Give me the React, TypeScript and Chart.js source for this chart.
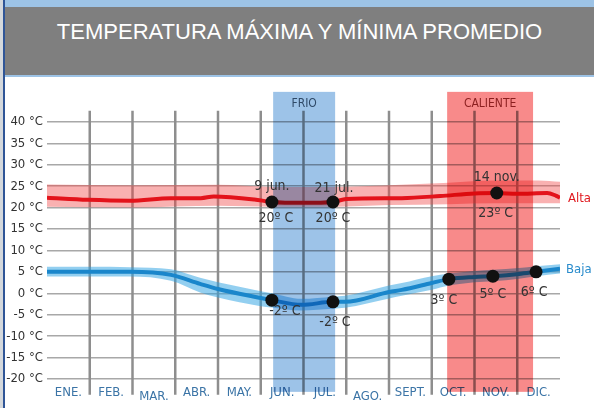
import React, { useEffect, useRef } from "react";
import { Chart, registerables } from "chart.js";

Chart.register(...registerables);

const TITLE = "TEMPERATURA MÁXIMA Y MÍNIMA PROMEDIO";
const MONTHS = ["ENE.", "FEB.", "MAR.", "ABR.", "MAY.", "JUN.", "JUL.", "AGO.", "SEPT.", "OCT.", "NOV.", "DIC."];
const MONTH_LOWERED = [false, false, true, false, false, false, false, true, false, false, false, false];
const Y_TICKS = [40, 35, 30, 25, 20, 15, 10, 5, 0, -5, -10, -15, -20];

// Alta (max temperature) line
const HIGH_X = [0, 0.96, 1.94, 2.9, 3.6, 3.9, 4.85, 5.26, 6.0, 6.69, 7.0, 8.3, 9.2, 10.0, 10.52, 11.0, 11.7, 11.9, 12];
const HIGH_T = [22.3, 21.8, 21.6, 22.2, 22.2, 22.6, 21.9, 21.3, 21.1, 21.3, 22.0, 22.2, 22.7, 23.3, 23.4, 23.2, 23.4, 22.8, 22.3];
// Alta band
const HIGH_BAND_X = [0, 2, 4, 5.3, 6.7, 8, 9.4, 10.5, 11.5, 12];
const HIGH_BAND_UP = [25.4, 25.2, 25.3, 24.8, 24.8, 25.2, 25.8, 26.3, 26.3, 26.0];
const HIGH_BAND_DOWN = [20.2, 20.0, 20.4, 20.2, 20.2, 20.6, 20.8, 21.0, 21.0, 21.0];

// Baja (min temperature) line
const LOW_X = [0, 1, 1.94, 2.9, 3.58, 4.0, 5.0, 5.26, 5.95, 6.69, 6.97, 8.0, 8.3, 9.0, 9.4, 10.0, 10.43, 11.04, 11.44, 12];
const LOW_T = [5.0, 5.0, 5.0, 4.3, 2.2, 1.0, -1.1, -1.6, -2.7, -2.0, -2.0, 0.3, 0.8, 2.4, 3.3, 3.8, 4.0, 4.5, 5.0, 5.7];
const LOW_BAND_UP = [6.2, 6.2, 6.1, 5.6, 3.6, 2.6, 0.5, 0.0, -1.3, -0.8, -0.6, 1.8, 2.4, 4.0, 4.6, 5.2, 5.5, 5.9, 6.3, 6.8];
const LOW_BAND_DOWN = [3.9, 3.9, 3.9, 2.9, 0.2, -1.0, -3.0, -3.3, -4.0, -3.6, -3.4, -1.2, -0.6, 0.8, 1.8, 2.6, 2.8, 3.4, 4.0, 4.6];

// Marked points
const MARK_X = [5.26, 6.69, 10.52, 5.26, 6.69, 9.4, 10.43, 11.44];
const MARK_T = [21.3, 21.3, 23.4, -1.6, -2.0, 3.3, 4.0, 5.0];
const MARK_TOP_LABELS = ["9 jun.", "21 jul.", "14 nov.", "", "", "", "", ""];
const MARK_BOTTOM_LABELS = ["20º C", "20º C", "23º C", "-2º C", "-2º C", "3º C", "5º C", "6º C"];

// Seasons
const SEASON_NAMES = ["FRIO", "CALIENTE"];
const SEASON_START = [5.29, 9.36];
const SEASON_END = [6.74, 11.37];

// ---- styles ----
const NARROW = "'Liberation Sans Narrow', 'DejaVu Sans Condensed', 'Roboto', sans-serif";
const MARK_TOP_OFFSET = [[0, -16], [1, -14], [0, -16], [0, 0], [0, 0], [0, 0], [0, 0], [0, 0]];
const MARK_BOTTOM_OFFSET = [[4, 16], [0, 16], [-1, 20], [13, 11], [2, 21], [-5, 21], [0, 18], [-2, 21]];
const SEASON_FILL = ["rgb(157,195,232)", "rgb(248,138,138)"];
const SEASON_TEXT = ["#2f4a68", "#8b1f1f"];
const DOTS_INDEX = 6;

const pts = (xs: number[], ys: number[]) => xs.map((x, i) => ({ x, y: ys[i] }));

const overlayPlugin = {
  id: "overlayPlugin",
  beforeDatasetsDraw(chart: any) {
    const { ctx, scales } = chart;
    const x = scales.x;
    const y = scales.y;
    ctx.save();
    ctx.strokeStyle = "#8e8e8e";
    ctx.lineWidth = 2.5;
    for (let m = 1; m < MONTHS.length; m++) {
      const px = x.getPixelForValue(m);
      ctx.beginPath();
      ctx.moveTo(px, y.getPixelForValue(42.6));
      ctx.lineTo(px, y.getPixelForValue(-23.7));
      ctx.stroke();
    }
    ctx.restore();
  },
  beforeDatasetDraw(chart: any, args: any) {
    if (args.index !== DOTS_INDEX) return;
    const { ctx, scales } = chart;
    const x = scales.x;
    const y = scales.y;
    ctx.save();
    ctx.globalCompositeOperation = "multiply";
    SEASON_NAMES.forEach((_, i) => {
      const x0 = x.getPixelForValue(SEASON_START[i]);
      const x1 = x.getPixelForValue(SEASON_END[i]);
      const y0 = y.getPixelForValue(47);
      const y1 = y.getPixelForValue(-23);
      ctx.fillStyle = SEASON_FILL[i];
      ctx.fillRect(x0, y0, x1 - x0, y1 - y0);
    });
    ctx.restore();
    ctx.save();
    ctx.font = `12px ${NARROW}`;
    ctx.textAlign = "center";
    ctx.textBaseline = "middle";
    SEASON_NAMES.forEach((name, i) => {
      const cx = (x.getPixelForValue(SEASON_START[i]) + x.getPixelForValue(SEASON_END[i])) / 2;
      ctx.fillStyle = SEASON_TEXT[i];
      ctx.fillText(name, cx, y.getPixelForValue(44.3));
    });
    ctx.restore();
  },
  afterDatasetsDraw(chart: any) {
    const { ctx, scales } = chart;
    const x = scales.x;
    const y = scales.y;
    ctx.save();
    ctx.font = `14px ${NARROW}`;
    ctx.textAlign = "center";
    ctx.textBaseline = "middle";
    ctx.fillStyle = "#333333";
    MARK_X.forEach((mx, i) => {
      const px = x.getPixelForValue(mx);
      const py = y.getPixelForValue(MARK_T[i]);
      if (MARK_TOP_LABELS[i]) {
        ctx.fillText(MARK_TOP_LABELS[i], px + MARK_TOP_OFFSET[i][0], py + MARK_TOP_OFFSET[i][1]);
      }
      if (MARK_BOTTOM_LABELS[i]) {
        ctx.fillText(MARK_BOTTOM_LABELS[i], px + MARK_BOTTOM_OFFSET[i][0], py + MARK_BOTTOM_OFFSET[i][1]);
      }
    });
    // series names at right end
    ctx.textAlign = "left";
    ctx.font = `13px ${NARROW}`;
    const endX = x.getPixelForValue(12);
    ctx.fillStyle = "#e0191f";
    ctx.fillText("Alta", endX + 8, y.getPixelForValue(HIGH_T[HIGH_T.length - 1]) + 1);
    ctx.fillStyle = "#2a8ccc";
    ctx.fillText("Baja", endX + 6, y.getPixelForValue(LOW_T[LOW_T.length - 1]) + 1);
    ctx.restore();
  },
};

function TempChart() {
  const ref = useRef<HTMLCanvasElement | null>(null);
  useEffect(() => {
    if (!ref.current) return;
    const chart = new Chart(ref.current, {
      type: "line",
      data: {
        datasets: [
          {
            data: pts(HIGH_BAND_X, HIGH_BAND_UP),
            borderWidth: 0,
            pointRadius: 0,
            fill: "+1",
            backgroundColor: "rgba(240,70,70,0.42)",
            cubicInterpolationMode: "monotone",
            order: 3,
          },
          {
            data: pts(HIGH_BAND_X, HIGH_BAND_DOWN),
            borderWidth: 0,
            pointRadius: 0,
            fill: false,
            cubicInterpolationMode: "monotone",
            order: 3,
          },
          {
            data: pts(HIGH_X, HIGH_T),
            borderColor: "#e3131b",
            borderWidth: 4,
            pointRadius: 0,
            fill: false,
            cubicInterpolationMode: "monotone",
            order: 2,
          },
          {
            data: pts(LOW_X, LOW_BAND_UP),
            borderWidth: 0,
            pointRadius: 0,
            fill: "+1",
            backgroundColor: "rgba(40,160,225,0.5)",
            cubicInterpolationMode: "monotone",
            order: 3,
          },
          {
            data: pts(LOW_X, LOW_BAND_DOWN),
            borderWidth: 0,
            pointRadius: 0,
            fill: false,
            cubicInterpolationMode: "monotone",
            order: 3,
          },
          {
            data: pts(LOW_X, LOW_T),
            borderColor: "#1a86cb",
            borderWidth: 4,
            pointRadius: 0,
            fill: false,
            cubicInterpolationMode: "monotone",
            order: 2,
          },
          {
            data: pts(MARK_X, MARK_T),
            showLine: false,
            pointRadius: 6.5,
            pointBackgroundColor: "#111111",
            pointBorderWidth: 0,
            order: 0,
          },
        ],
      },
      options: {
        animation: false,
        responsive: false,
        events: [],
        layout: { padding: { left: 0, right: 34, top: 32, bottom: 0 } },
        plugins: { legend: { display: false }, tooltip: { enabled: false } },
        scales: {
          x: {
            type: "linear",
            min: 0,
            max: 12,
            afterBuildTicks: (s: any) => {
              s.ticks = MONTHS.map((_, i) => ({ value: i + 0.5 }));
            },
            afterFit: (s: any) => {
              s.height = 29;
            },
            grid: { display: false, drawTicks: false },
            border: { display: false },
            ticks: {
              autoSkip: false,
              maxRotation: 0,
              padding: 6,
              color: "#3b74a6",
              font: (ctx: any) => ({
                family: NARROW,
                size: 13,
                lineHeight: MONTH_LOWERED[ctx.index] ? 1.85 : 1.2,
              }),
              callback: (_v: any, i: number) => MONTHS[i],
            },
          },
          y: {
            min: -20,
            max: 43,
            afterBuildTicks: (s: any) => {
              s.ticks = Y_TICKS.map((v) => ({ value: v }));
            },
            afterFit: (s: any) => {
              s.width = 47;
            },
            grid: { color: "#a8a8a8", lineWidth: 1.5, drawTicks: false },
            border: { display: false },
            ticks: {
              padding: 4,
              color: "#333333",
              font: { family: NARROW, size: 13 },
              callback: (v: any) => `${v} °C`,
            },
          },
        },
      },
      plugins: [overlayPlugin],
    } as any);
    return () => chart.destroy();
  }, []);
  return <canvas ref={ref} width={594} height={331} style={{ display: "block", width: 594, height: 331 }} />;
}

export default function App() {
  return (
    <div
      style={{
        position: "fixed",
        left: 0,
        top: 0,
        width: 594,
        height: 408,
        background: "#ffffff",
        overflow: "hidden",
      }}
    >
      <div style={{ position: "absolute", left: 0, top: 0, width: 594, height: 7, background: "#9dc3e6" }} />
      <div style={{ position: "absolute", left: 0, top: 7, width: 594, height: 68, background: "#7f7f7f" }} />
      <div style={{ position: "absolute", left: 0, top: 75, width: 594, height: 2, background: "#9dc3e6" }} />
      <div
        style={{
          position: "absolute",
          left: 5,
          top: 19,
          width: 589,
          height: 26,
          lineHeight: "26px",
          textAlign: "center",
          color: "#ffffff",
          fontFamily: "'Liberation Sans', Arial, sans-serif",
          fontSize: 22,
        }}
      >
        {TITLE}
      </div>
      <div style={{ position: "absolute", left: 0, top: 77, width: 594, height: 331 }}>
        <TempChart />
      </div>
      <div style={{ position: "absolute", left: 0, top: 0, width: 3, height: 408, background: "#d4d8dc" }} />
      <div style={{ position: "absolute", left: 3, top: 0, width: 2, height: 408, background: "#2f5597" }} />
    </div>
  );
}
